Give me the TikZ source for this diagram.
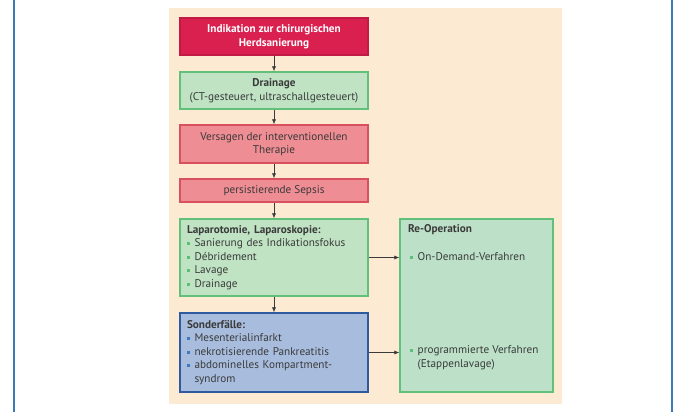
\documentclass[tikz,border=0pt]{standalone}
\usepackage{fontspec}
\setmainfont{PT Sans}
\usepackage{xcolor}
\usetikzlibrary{arrows.meta}

\definecolor{frameblue}{HTML}{3A7AB8}
\definecolor{beige}{HTML}{FCEBD2}
\definecolor{textgray}{HTML}{3A3A3A}
\definecolor{crimson}{HTML}{D9204F}
\definecolor{crimsonline}{HTML}{C01A45}
\definecolor{lightred}{HTML}{EE8D93}
\definecolor{redline}{HTML}{D9505F}
\definecolor{lightgreen}{HTML}{C0E3C4}
\definecolor{greenline}{HTML}{62C07A}
\definecolor{tealgreen}{HTML}{BCE1C8}
\definecolor{lightblue}{HTML}{A8BDDE}
\definecolor{blueline}{HTML}{2F5A9F}
\definecolor{bulgreen}{HTML}{5CBF78}
\definecolor{bulblue}{HTML}{3E78C0}

\newcommand{\gbul}{\textcolor{bulgreen}{\rule[0.3ex]{3pt}{3pt}}\hspace{4.5pt}}
\newcommand{\bbul}{\textcolor{bulblue}{\rule[0.3ex]{3pt}{3pt}}\hspace{4.5pt}}

\begin{document}
\begin{tikzpicture}[x=1pt, y=-1pt, font=\fontsize{11.2}{13.6}\selectfont,
    box/.style={draw, line width=1.2pt, minimum width=188pt, inner sep=1pt, text=textgray, align=center},
    listbox/.style={box, align=left, text width=174pt, inner xsep=7pt},
    arr/.style={-{Latex[length=5pt, width=4pt]}, textgray, line width=0.6pt}]
    \useasboundingbox (0,0) rectangle (675,412);
    \draw[frameblue, line width=2pt] (14,0) -- (14,412);
    \draw[frameblue, line width=2pt] (672,0) -- (672,412);
    \fill[beige] (169,8) rectangle (562,404);

    \node[box, fill=crimson, draw=crimsonline, text=white, minimum height=37pt] (ind) at (274,36.5)
        {\textbf{Indikation zur chirurgischen}\\\textbf{Herdsanierung}};
    \node[box, fill=lightgreen, draw=greenline, minimum height=37pt] (drain) at (274,90.5)
        {\textbf{Drainage}\\(CT-gesteuert, ultraschallgesteuert)};
    \node[box, fill=lightred, draw=redline, minimum height=38pt] (vers) at (274,144)
        {Versagen der interventionellen\\Therapie};
    \node[box, fill=lightred, draw=redline, minimum height=23pt] (sepsis) at (274,190.5)
        {persistierende Sepsis};
    \node[listbox, fill=lightgreen, draw=greenline, minimum height=77pt] (lap) at (274,257.5)
        {\textbf{Laparotomie, Laparoskopie:}\\
         \gbul Sanierung des Indikationsfokus\\
         \gbul Débridement\\
         \gbul Lavage\\
         \gbul Drainage};
    \node[listbox, fill=lightblue, draw=blueline, minimum height=79pt] (sonder) at (274,352.5)
        {\textbf{Sonderfälle:}\\
         \bbul Mesenterialinfarkt\\
         \bbul nekrotisierende Pankreatitis\\
         \bbul abdominelles Kompartment-\\
         \hspace{7.5pt}syndrom};
    \node[box, fill=tealgreen, draw=greenline, minimum height=173pt, minimum width=153pt] (reop) at (476.5,305.5) {};
    \node[anchor=west, inner sep=0pt, text=textgray] (reoptitle) at (408,230) {\textbf{Re-Operation}};
    \node[anchor=west, inner sep=0pt, text=textgray] (ondemand) at (410,257) {\gbul On-Demand-Verfahren};
    \node[anchor=west, inner sep=0pt, text=textgray, align=left] (prog) at (410,357.5)
        {\gbul programmierte Verfahren\\\hspace{7.5pt}(Etappenlavage)};

    \draw[arr] (ind) -- (drain);
    \draw[arr] (drain) -- (vers);
    \draw[arr] (vers) -- (sepsis);
    \draw[arr] (sepsis) -- (lap);
    \draw[arr] (lap) -- (sonder);
    \draw[arr] (lap.east) -- (lap.east -| reop.west);
    \draw[arr] (sonder.east) -- (sonder.east -| reop.west);
\end{tikzpicture}
\end{document}
